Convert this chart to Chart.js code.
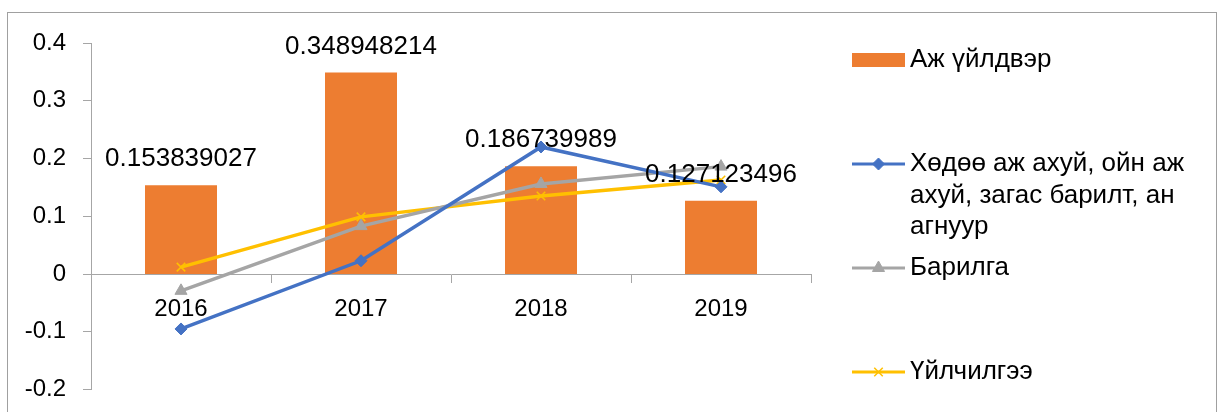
<!DOCTYPE html>
<html>
<head>
<meta charset="utf-8">
<script src="https://cdn.jsdelivr.net/npm/chart.js@4"></script>
<style>
  html, body { margin: 0; background: #fff; overflow: hidden; width: 1218px; height: 412px; }
  #frame { position: absolute; left: 7px; top: 12px; width: 1208px; height: 420px; border: 1px solid #a0a0a0; }
  #wrap { position: absolute; left: 0; top: 0; width: 1218px; height: 421px; }
</style>
</head>
<body>
<div id="frame"></div>
<div id="wrap"><canvas id="myChart"></canvas></div>
<script>
// chart values
const years = ['2016', '2017', '2018', '2019'];
const industry = [0.153839027, 0.348948214, 0.186739989, 0.127123496];
const agriculture = [-0.095, 0.023, 0.220, 0.151];
const construction = [-0.029, 0.083, 0.156, 0.186];
const services = [0.012, 0.099, 0.135, 0.163];
const seriesNames = [
    'Аж үйлдвэр',
    'Хөдөө аж ахуй, ойн аж ахуй, загас барилт, ан агнуур',
    'Барилга',
    'Үйлчилгээ'
];

const FONT = 'Liberation Sans, Arial, sans-serif';

// value labels above the bars
const barLabels = {
    id: 'barLabels',
    afterDatasetsDraw(chart) {
        const ctx = chart.ctx;
        const meta = chart.getDatasetMeta(0);
        ctx.save();
        ctx.font = '26px ' + FONT;
        ctx.fillStyle = '#000';
        ctx.textAlign = 'center';
        ctx.textBaseline = 'middle';
        meta.data.forEach(function(bar, i) {
            ctx.fillText(String(chart.data.datasets[0].data[i]), bar.x, bar.y - 26);
        });
        ctx.restore();
    }
};

// legend on the right, Excel style
const sideLegend = {
    id: 'sideLegend',
    afterDraw(chart) {
        const ctx = chart.ctx;
        const rows = [60, 164, 268, 372];
        const x0 = 852, x1 = 905, tx = 910, maxW = 290, lineH = 31.5;
        ctx.save();
        ctx.font = '26px ' + FONT;
        ctx.textBaseline = 'middle';
        chart.data.datasets.forEach(function(ds, i) {
            const y = rows[i];
            if (ds.type === 'line') {
                ctx.strokeStyle = ds.borderColor;
                ctx.fillStyle = ds.borderColor;
                ctx.lineWidth = 3;
                ctx.beginPath();
                ctx.moveTo(x0, y);
                ctx.lineTo(x1, y);
                ctx.stroke();
                ctx.lineWidth = ds.pointBorderWidth;
                Chart.helpers.drawPoint(ctx, {
                    pointStyle: ds.pointStyle,
                    radius: ds.pointRadius,
                    borderWidth: ds.pointBorderWidth
                }, (x0 + x1) / 2, y);
            } else {
                ctx.fillStyle = ds.backgroundColor;
                ctx.fillRect(x0, y - 7, x1 - x0, 14);
            }
            // wrap long names
            const words = ds.label.split(' ');
            let lines = [], cur = '';
            words.forEach(function(w) {
                const test = cur ? cur + ' ' + w : w;
                if (ctx.measureText(test).width > maxW && cur) {
                    lines.push(cur);
                    cur = w;
                } else {
                    cur = test;
                }
            });
            lines.push(cur);
            ctx.fillStyle = '#000';
            lines.forEach(function(l, k) {
                ctx.fillText(l, tx, y + k * lineH);
            });
        });
        ctx.restore();
    }
};

function lineSet(label, data, color, style, radius) {
    return {
        type: 'line',
        label: label,
        data: data,
        borderColor: color,
        backgroundColor: color,
        borderWidth: 3.5,
        pointStyle: style,
        pointRadius: radius,
        pointBorderColor: color,
        pointBackgroundColor: color,
        pointBorderWidth: style === 'crossRot' ? 1.5 : 1,
        tension: 0,
        order: 0
    };
}

const ctx = document.getElementById('myChart').getContext('2d');
const myChart = new Chart(ctx, {
    type: 'bar',
    data: {
        labels: years,
        datasets: [
            {
                label: seriesNames[0],
                data: industry,
                backgroundColor: '#ED7D31',
                categoryPercentage: 1,
                barPercentage: 0.4,
                order: 1
            },
            lineSet(seriesNames[1], agriculture, '#4472C4', 'rectRot', 6),
            lineSet(seriesNames[2], construction, '#A5A5A5', 'triangle', 7),
            lineSet(seriesNames[3], services, '#FFC000', 'crossRot', 6)
        ]
    },
    options: {
        responsive: true,
        maintainAspectRatio: false,
        animation: false,
        layout: { padding: { left: 0, right: 407, top: 43, bottom: 14 } },
        plugins: {
            legend: { display: false },
            tooltip: { enabled: false }
        },
        scales: {
            x: {
                position: { y: 0 },
                offset: true,
                grid: { offset: true, drawOnChartArea: false, tickLength: 8, color: '#a6a6a6', lineWidth: 1 },
                border: { color: '#a6a6a6', width: 1 },
                ticks: { color: '#000', font: { family: FONT, size: 24 }, padding: 13 }
            },
            y: {
                min: -0.2,
                max: 0.4,
                ticks: {
                    stepSize: 0.1,
                    color: '#000',
                    font: { family: FONT, size: 24 },
                    padding: 17,
                    callback: function(v) { return String(Number(v.toFixed(1))); }
                },
                grid: { drawOnChartArea: false, tickLength: 8, color: '#a6a6a6' },
                border: { color: '#a6a6a6', width: 1 },
                afterFit: function(scale) { scale.width = 91; }
            }
        }
    },
    plugins: [barLabels, sideLegend]
});
</script>
</body>
</html>
